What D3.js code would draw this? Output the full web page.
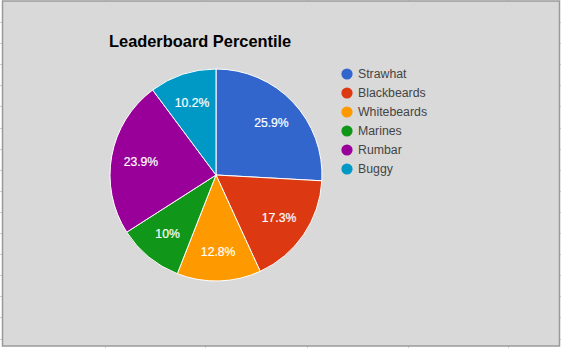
<!DOCTYPE html>
<html>
<head>
<meta charset="utf-8">
<script src="https://cdn.jsdelivr.net/npm/d3@7"></script>
<style>
  body { margin: 0; background: #fff; }
  svg { display: block; font-family: Arial, "Liberation Sans", sans-serif; }
</style>
</head>
<body>
<div id="chart"></div>
<script>
// chart data
let teams = ["Strawhat", "Blackbeards", "Whitebeards", "Marines", "Rumbar", "Buggy"]
let shares = [25.9, 17.3, 12.8, 10.0, 23.9, 10.2]
let colors = ["#3366cc", "#dc3912", "#ff9900", "#109618", "#990099", "#0099c6"]
let title = "Leaderboard Percentile"

let width = 561, height = 348

let svg = d3.select("#chart")
  .append("svg")
  .attr("width", width)
  .attr("height", height)

// spreadsheet cell lines peeking out around the chart box
let colLines = [105, 205, 307, 408, 508]
let rowLines = d3.range(22, 346, 21.1)

svg.selectAll(".rowtick")
  .data(rowLines)
  .enter()
  .append("line")
  .attr("x1", 0).attr("x2", width)
  .attr("y1", d => Math.round(d) + 0.5)
  .attr("y2", d => Math.round(d) + 0.5)
  .attr("stroke", "#d0d0d0")

svg.selectAll(".coltick")
  .data(colLines)
  .enter()
  .append("line")
  .attr("y1", 0).attr("y2", height)
  .attr("x1", d => d + 0.5)
  .attr("x2", d => d + 0.5)
  .attr("stroke", "#d0d0d0")

// chart box
svg.append("rect")
  .attr("x", 2.5)
  .attr("y", 1)
  .attr("width", 557)
  .attr("height", 345)
  .attr("fill", "#d9d9d9")
  .attr("stroke", "#9a9a9a")
  .attr("stroke-width", 1.5)

svg.append("text")
  .attr("x", 109)
  .attr("y", 47)
  .attr("font-size", 16.4)
  .attr("font-weight", "bold")
  .attr("fill", "#000")
  .text(title)

// pie
let cx = 216, cy = 175, r = 106
let total = d3.sum(shares)

let color = d3.scaleOrdinal()
  .domain(teams)
  .range(colors)

let pie = d3.pie()
  .value(d => d.value)
  .sort(null)

let slices = pie(teams.map((t, i) => ({team: t, value: shares[i]})))

let arc = d3.arc().innerRadius(0).outerRadius(r)
let labelArc = d3.arc().innerRadius(r * 0.72).outerRadius(r * 0.72)

let g = svg.append("g")
  .attr("transform", "translate(" + cx + "," + cy + ")")

g.selectAll("path")
  .data(slices)
  .enter()
  .append("path")
  .attr("d", arc)
  .attr("fill", d => color(d.data.team))
  .attr("stroke", "#fff")
  .attr("stroke-width", 1)

g.selectAll(".pct")
  .data(slices)
  .enter()
  .append("text")
  .attr("class", "pct")
  .attr("transform", d => "translate(" + labelArc.centroid(d) + ")")
  .attr("text-anchor", "middle")
  .attr("dy", "0.36em")
  .attr("font-size", 12.2)
  .attr("fill", "#fff")
  .attr("stroke", "#fff")
  .attr("stroke-width", 0.2)
  .text(d => {
    let p = Math.round(d.data.value / total * 1000) / 10
    return p + "%"
  })

// legend
let legend = svg.selectAll(".legend")
  .data(teams)
  .enter()
  .append("g")
  .attr("transform", (d, i) => "translate(347," + (74 + i * 19) + ")")

legend.append("circle")
  .attr("r", 5.6)
  .attr("fill", d => color(d))

legend.append("text")
  .attr("x", 11)
  .attr("dy", "0.36em")
  .attr("font-size", 12.3)
  .attr("fill", "#444")
  .text(d => d)
</script>
</body>
</html>
